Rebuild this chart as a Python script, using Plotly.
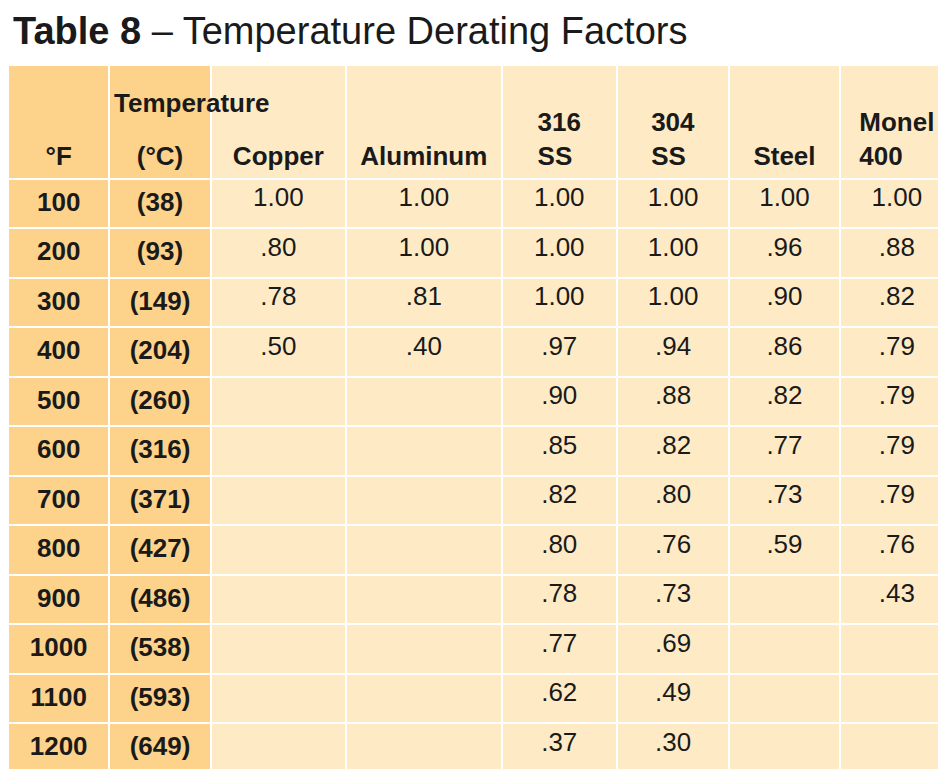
import plotly.graph_objects as go

temp_f = ["100", "200", "300", "400", "500", "600", "700", "800", "900", "1000", "1100", "1200"]
temp_c = ["(38)", "(93)", "(149)", "(204)", "(260)", "(316)", "(371)", "(427)", "(486)", "(538)", "(593)", "(649)"]
copper = ["1.00", ".80", ".78", ".50", "", "", "", "", "", "", "", ""]
aluminum = ["1.00", "1.00", ".81", ".40", "", "", "", "", "", "", "", ""]
ss316 = ["1.00", "1.00", "1.00", ".97", ".90", ".85", ".82", ".80", ".78", ".77", ".62", ".37"]
ss304 = ["1.00", "1.00", "1.00", ".94", ".88", ".82", ".80", ".76", ".73", ".69", ".49", ".30"]
steel = ["1.00", ".96", ".90", ".86", ".82", ".77", ".73", ".59", "", "", "", ""]
monel = ["1.00", ".88", ".82", ".79", ".79", ".79", ".79", ".76", ".43", "", "", ""]

headers = [["&nbsp;", "&nbsp;", "°F"], ["&nbsp;", "&nbsp;", "(°C)"], ["&nbsp;", "&nbsp;", "Copper"],
           ["&nbsp;", "&nbsp;", "Aluminum"], ["&nbsp;", "316", "SS"], ["&nbsp;", "304", "SS"],
           ["&nbsp;", "&nbsp;", "Steel"], ["&nbsp;", "Monel", "400"]]

dark = "#FDD38C"
light = "#FEEBC6"
col_fill = [dark, dark] + [light] * 6
font = "Liberation Sans Narrow, Liberation Sans, Arial"

fig = go.Figure(go.Table(
    domain=dict(x=[0, 1], y=[0, 1 - 57 / 769]),
    columnwidth=[101, 101, 135, 155, 115, 112, 110, 114],
    header=dict(
        values=["<br>".join("<b>%s</b>" % p for p in h) for h in headers],
        fill_color=col_fill,
        line=dict(color="white", width=2),
        font=dict(family=font, size=26, color="#1a1a1a"),
        align="center",
        height=113,
    ),
    cells=dict(
        values=[["<b>%s</b>" % v for v in temp_f], ["<b>%s</b>" % v for v in temp_c],
                copper, aluminum, ss316, ss304, steel, monel],
        fill_color=col_fill,
        line=dict(color="white", width=2),
        font=dict(family=font, size=26, color="#1a1a1a"),
        align="center",
        height=49.5,
    ),
))

fig.add_annotation(x=104 / 946, y=1 - 95 / 769, xref="paper", yref="paper", yanchor="middle",
                   text="<b>Temperature</b>", showarrow=False,
                   font=dict(family=font, size=26, color="#1a1a1a"))
fig.add_annotation(x=3 / 946, y=1, xref="paper", yref="paper", xanchor="left", yanchor="top",
                   text="<b>Table 8</b> – Temperature Derating Factors", showarrow=False,
                   font=dict(family="Liberation Sans, Arial", size=38, color="#1a1a1a"))

fig.update_layout(width=946, height=769, margin=dict(l=0, r=0, t=0, b=0),
                  paper_bgcolor="white")
fig.write_html("out.html")
